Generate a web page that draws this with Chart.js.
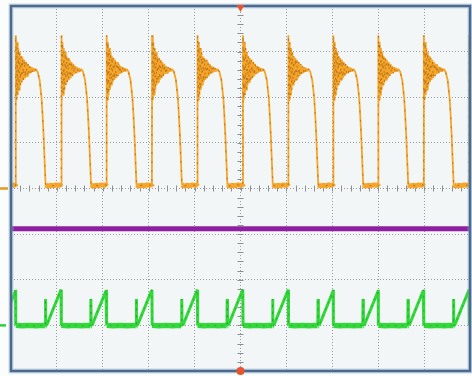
<!DOCTYPE html>
<html>
<head>
<meta charset="utf-8">
<script src="https://cdn.jsdelivr.net/npm/chart.js@4.4.1/dist/chart.umd.min.js"></script>
<style>
  html, body { margin: 0; padding: 0; background: #fbfcfc; }
  canvas { display: block; }
</style>
</head>
<body>
<canvas id="scope" width="472" height="376"></canvas>
<script>
// screen is 10 divisions across, 8 down; 0 is the centre graticule line
const xRange = [0, 10];
const yRange = [-4, 4];

// CH1 (orange): rising-edge times in div, then one period of the waveform (offset from edge, level in div)
const ch1Rises = [-0.88, 0.10, 1.09, 2.08, 3.07, 4.06, 5.05, 6.04, 7.02, 8.00, 8.99, 9.98];
const ch1Dt = [0, 0.004, 0.02, 0.032, 0.046, 0.06, 0.075, 0.09, 0.105, 0.12, 0.137, 0.154, 0.171, 0.19,
  0.21, 0.23, 0.25, 0.27, 0.29, 0.31, 0.33, 0.35, 0.37, 0.39, 0.41, 0.44, 0.479,
  0.523, 0.566, 0.588, 0.61, 0.632, 0.654, 0.70, 0.76, 0.82, 0.88, 0.94, 0.975];
const ch1V = [0.05, 3.36, 1.94, 3.21, 2.05, 3.08, 2.16, 2.99, 2.27, 2.90, 2.33, 2.86, 2.38, 2.82,
  2.42, 2.77, 2.46, 2.73, 2.51, 2.68, 2.53, 2.66, 2.56, 2.64, 2.57, 2.62, 2.56,
  2.38, 1.98, 1.61, 1.17, 0.62, 0.08, 0.05, 0.07, 0.06, 0.08, 0.07, 0.08];
const ch1Ground = 0;

// CH2 (purple): flat trace
const ch2X = [0, 10];
const ch2V = [-0.88, -0.88];

// CH3 (green): same edges as CH1, one period of the ramp waveform
const ch3Dt = [0, 0.006, 0.15, 0.30, 0.45, 0.60, 0.645, 0.65, 0.657, 0.675, 0.98];
const ch3V = [-2.22, -3.0, -3.01, -3.0, -3.01, -3.0, -3.01, -2.42, -3.0, -3.0, -2.24];
const ch3Ground = -3;

function tile(rises, dts, vals) {
  const pts = [];
  rises.forEach(r => dts.forEach((d, i) => pts.push({ x: r + d, y: vals[i] })));
  return pts;
}

const ch1Data = tile(ch1Rises, ch1Dt, ch1V);
const ch3Data = tile(ch1Rises, ch3Dt, ch3V);
const ch2Data = ch2X.map((x, i) => ({ x, y: ch2V[i] }));

const screenPlugin = {
  id: 'screen',
  beforeDraw(chart) {
    const { ctx, chartArea: a } = chart;
    ctx.save();
    ctx.fillStyle = '#fbfcfc';
    ctx.fillRect(0, 0, chart.width, chart.height);
    ctx.fillStyle = '#f3f6f7';
    ctx.fillRect(a.left, a.top, a.right - a.left, a.bottom - a.top);
    ctx.restore();
  },
  beforeDatasetsDraw(chart) {
    // minor ticks on the centre cross
    const { ctx, scales: { x, y } } = chart;
    const cx = x.getPixelForValue(5), cy = y.getPixelForValue(0);
    ctx.save();
    ctx.strokeStyle = '#8c8f93';
    ctx.lineWidth = 1;
    ctx.beginPath();
    for (let v = 0; v <= 10.001; v += 0.2) {
      const px = Math.round(x.getPixelForValue(v)) + 0.5;
      ctx.moveTo(px, cy - 3); ctx.lineTo(px, cy + 3);
    }
    for (let v = -4; v <= 4.001; v += 0.2) {
      const py = Math.round(y.getPixelForValue(v)) + 0.5;
      ctx.moveTo(cx - 3, py); ctx.lineTo(cx + 3, py);
    }
    ctx.stroke();
    ctx.restore();
  },
  afterDraw(chart) {
    const { ctx, chartArea: a, scales: { x, y } } = chart;
    ctx.save();
    // bezel
    ctx.strokeStyle = 'rgba(140,175,210,0.45)';
    ctx.lineWidth = 5;
    ctx.strokeRect(a.left, a.top, a.right - a.left, a.bottom - a.top);
    ctx.strokeStyle = '#4b6a8c';
    ctx.lineWidth = 2.5;
    ctx.strokeRect(a.left, a.top, a.right - a.left, a.bottom - a.top);

    // channel ground markers
    ctx.lineWidth = 2.5;
    ctx.strokeStyle = '#e39a22';
    const g1 = y.getPixelForValue(ch1Ground);
    ctx.beginPath(); ctx.moveTo(0, g1); ctx.lineTo(8, g1); ctx.stroke();
    ctx.strokeStyle = '#2fcf3a';
    const g3 = y.getPixelForValue(ch3Ground);
    ctx.beginPath(); ctx.moveTo(0, g3); ctx.lineTo(6, g3); ctx.stroke();

    // trigger position markers
    const cx = x.getPixelForValue(5);
    ctx.fillStyle = '#e8542c';
    ctx.beginPath();
    ctx.moveTo(cx - 4, a.top - 1); ctx.lineTo(cx + 4, a.top - 1); ctx.lineTo(cx, a.top + 6);
    ctx.closePath(); ctx.fill();
    ctx.beginPath();
    ctx.arc(cx, a.bottom, 4, 0, Math.PI * 2);
    ctx.fill();
    ctx.restore();
  }
};

new Chart(document.getElementById('scope'), {
  type: 'scatter',
  data: {
    datasets: [
      { data: ch1Data, showLine: true, pointRadius: 0, order: 0, borderJoinStyle: 'bevel',
        borderColor: 'rgba(135,78,14,0.5)', borderWidth: 1.1, borderDash: [2, 7] },
      { data: ch3Data, showLine: true, pointRadius: 0, order: 0,
        borderColor: 'rgba(22,130,30,0.45)', borderWidth: 1, borderDash: [2, 5] },
      { data: ch1Data, showLine: true, pointRadius: 0, order: 1, borderJoinStyle: 'bevel',
        borderColor: '#f4a52a', borderWidth: 1.8,
        segment: { borderWidth: c => (c.p0.parsed.y < 0.3 && c.p1.parsed.y < 0.3) ? 5 : 1.8 } },
      { data: ch2Data, showLine: true, pointRadius: 0, order: 1,
        borderColor: '#8e1fa2', borderWidth: 5 },
      { data: ch3Data, showLine: true, pointRadius: 0, order: 1, borderJoinStyle: 'bevel',
        borderColor: '#33d83a', borderWidth: 3,
        segment: { borderWidth: c => (c.p0.parsed.y < -2.9 && c.p1.parsed.y < -2.9) ? 5.5 : 3 } }
    ]
  },
  options: {
    responsive: false,
    animation: false,
    events: [],
    layout: { padding: { left: 11, top: 6, right: 2, bottom: 5 } },
    plugins: { legend: { display: false }, tooltip: { enabled: false } },
    scales: {
      x: {
        type: 'linear', min: xRange[0], max: xRange[1],
        ticks: { display: false, stepSize: 1 },
        grid: { color: '#9a9ea3', lineWidth: 1, drawTicks: false },
        border: { display: false, dash: [1, 2] }
      },
      y: {
        type: 'linear', min: yRange[0], max: yRange[1],
        ticks: { display: false, stepSize: 1 },
        grid: { color: '#9a9ea3', lineWidth: 1, drawTicks: false },
        border: { display: false, dash: [1, 2] }
      }
    }
  },
  plugins: [screenPlugin]
});
</script>
</body>
</html>
